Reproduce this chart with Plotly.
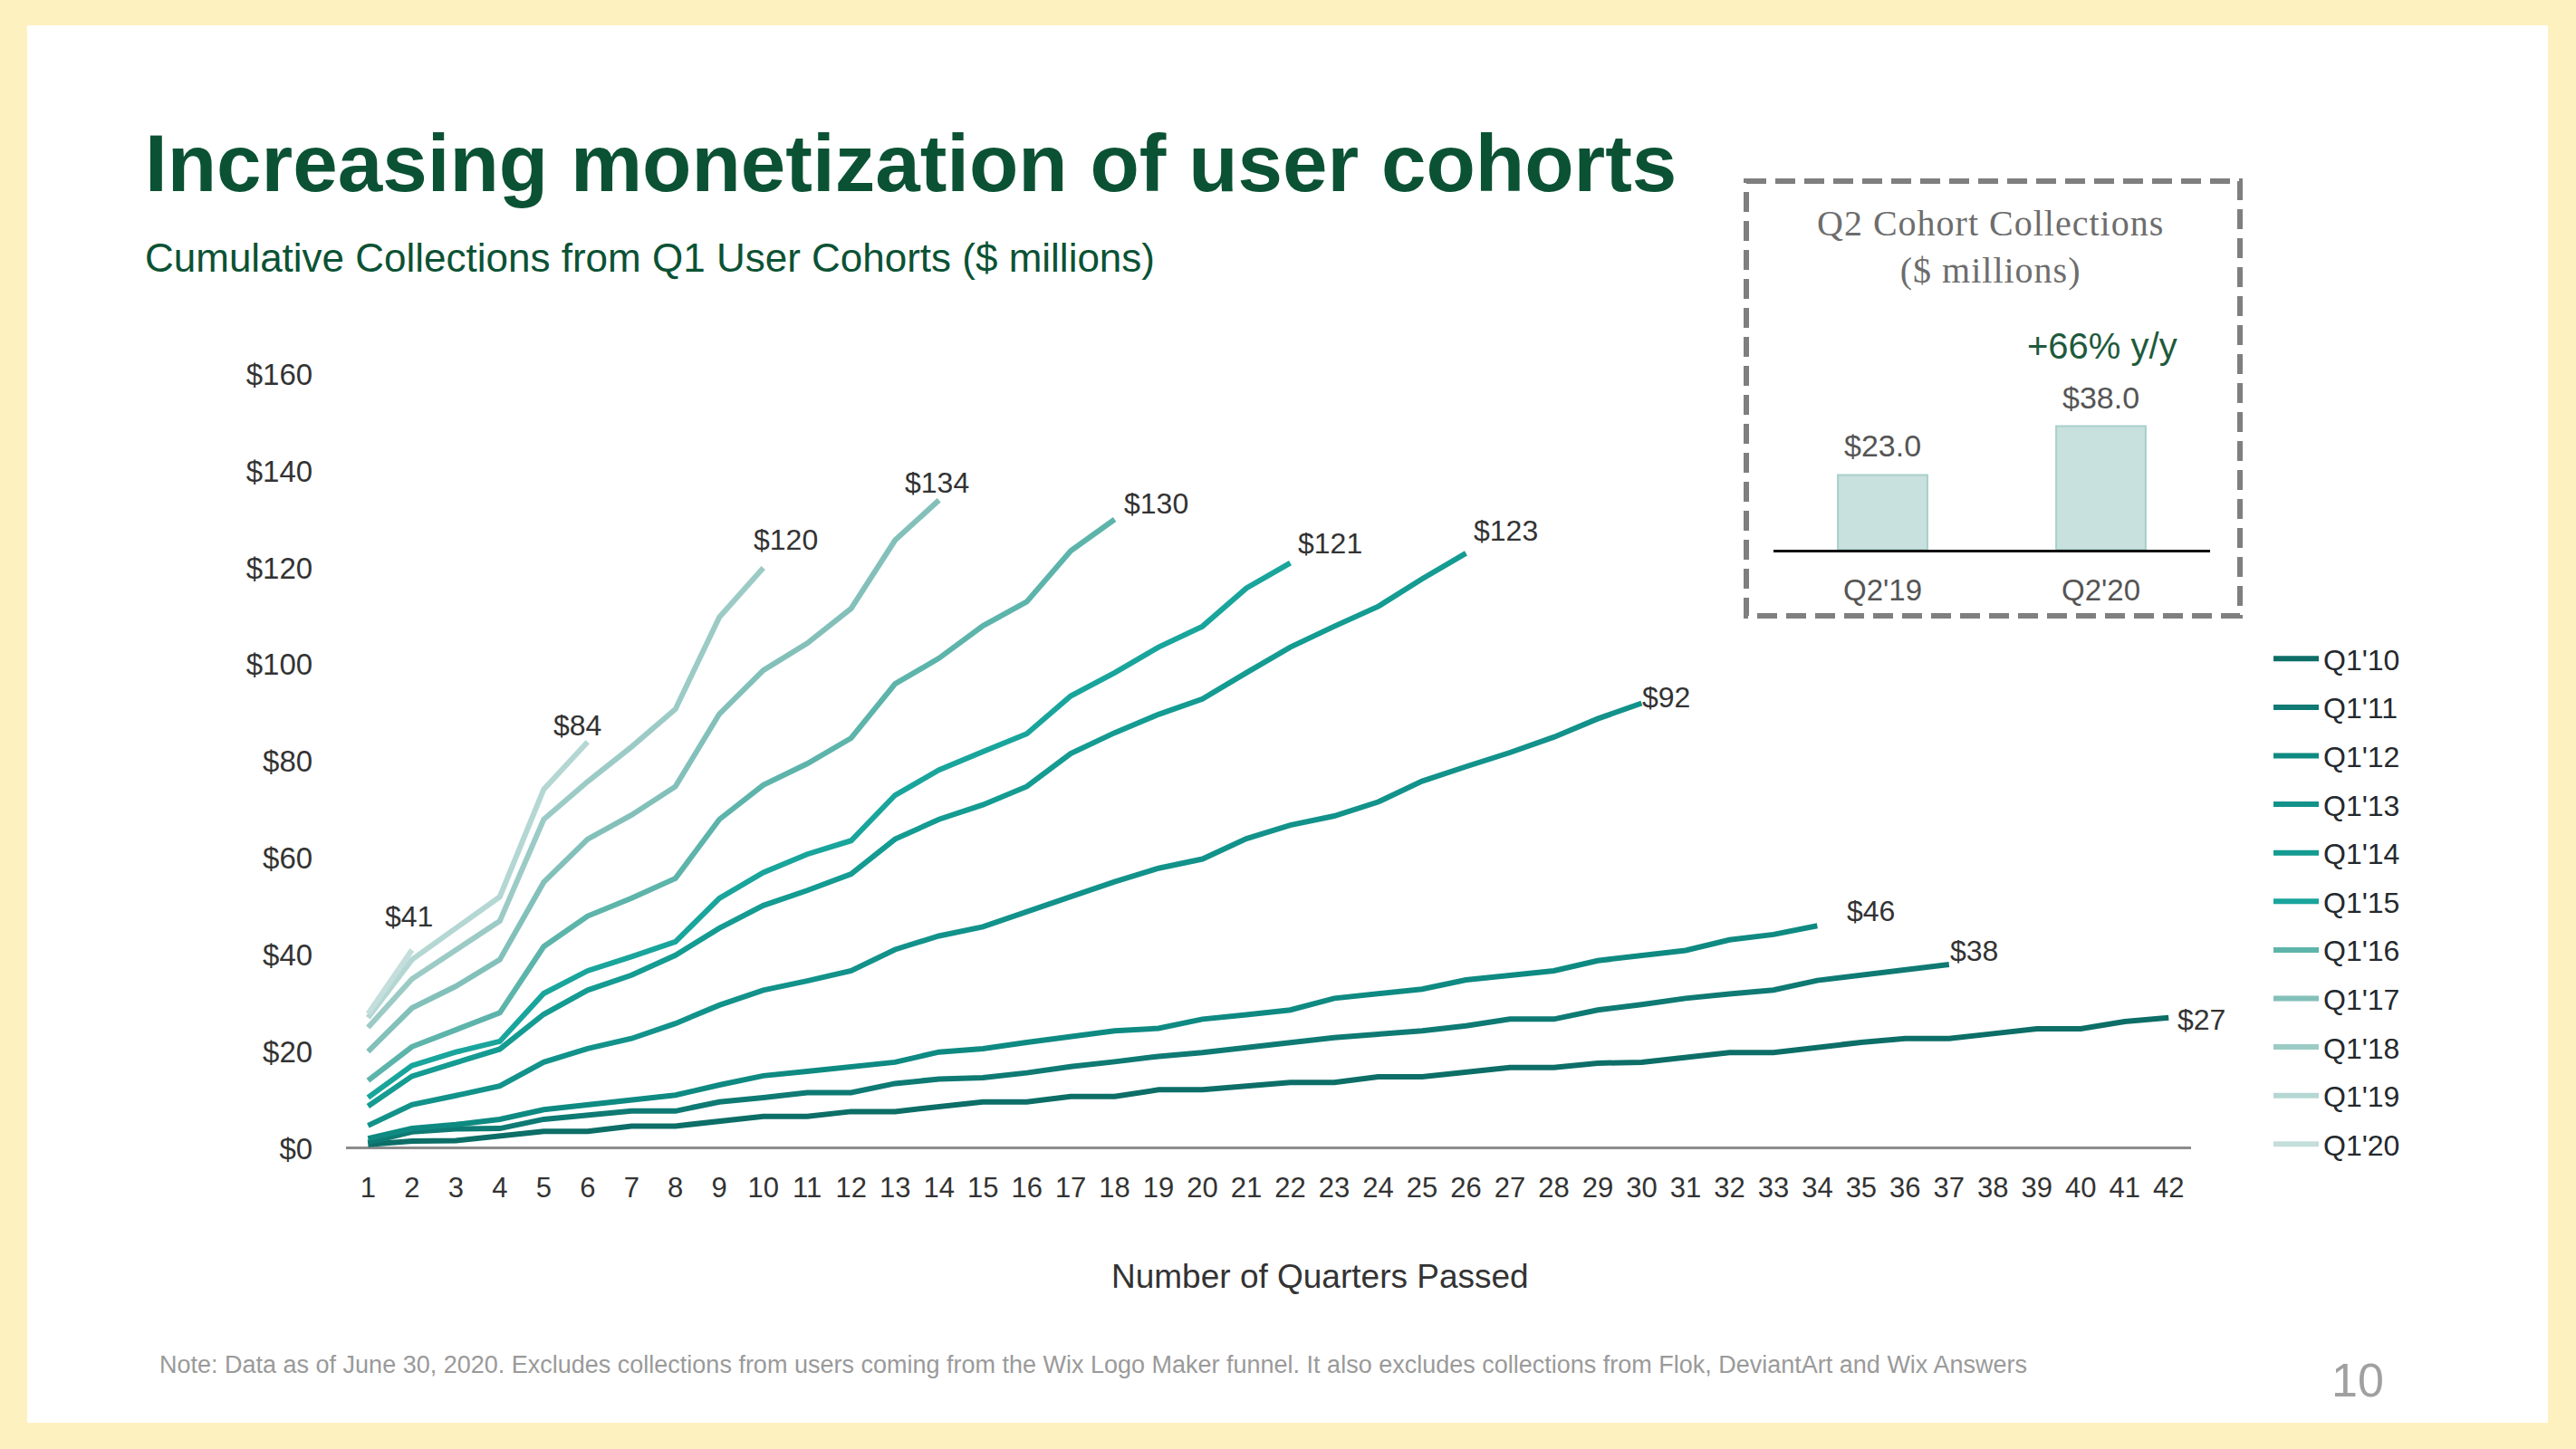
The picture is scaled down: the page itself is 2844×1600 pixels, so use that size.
import plotly.graph_objects as go

# ---------------- data ----------------
quarters = list(range(1, 43))
y_ticks = list(range(0, 161, 20))

cohort_names = ["Q1'10", "Q1'11", "Q1'12", "Q1'13", "Q1'14", "Q1'15",
                "Q1'16", "Q1'17", "Q1'18", "Q1'19", "Q1'20"]

q1_10 = [0.8, 1.5, 1.6, 2.6, 3.5, 3.5, 4.6, 4.6, 5.6, 6.6, 6.6, 7.6, 7.6, 8.7, 9.6,
         9.6, 10.7, 10.7, 12.1, 12.1, 12.8, 13.6, 13.6, 14.8, 14.8, 15.7, 16.7, 16.7,
         17.6, 17.8, 18.9, 19.8, 19.8, 20.9, 21.9, 22.7, 22.7, 23.7, 24.7, 24.7, 26.2, 27.0]
q1_11 = [1.2, 3.4, 4.0, 4.1, 6.0, 6.8, 7.7, 7.7, 9.6, 10.5, 11.5, 11.5, 13.4, 14.3, 14.6,
         15.6, 16.9, 17.9, 19.0, 19.8, 20.8, 22.0, 22.9, 23.6, 24.3, 25.3, 26.7, 26.7,
         28.6, 29.7, 31.0, 31.9, 32.7, 34.7, 35.8, 37.0, 38.0]
q1_12 = [2.0, 4.1, 4.9, 6.0, 8.0, 9.0, 9.9, 11.0, 13.1, 15.0, 15.9, 16.8, 17.8, 19.9, 20.6,
         21.9, 23.1, 24.3, 24.8, 26.7, 27.6, 28.6, 31.0, 31.9, 32.9, 34.8, 35.8, 36.7,
         38.8, 39.8, 40.9, 43.1, 44.2, 46.0]
q1_13 = [4.7, 9.0, 10.9, 12.9, 17.8, 20.6, 22.7, 25.8, 29.6, 32.7, 34.6, 36.7, 41.1, 43.9,
         45.8, 49.0, 52.0, 55.1, 57.9, 59.8, 64.0, 66.8, 68.7, 71.6, 75.9, 78.9, 81.8,
         85.0, 88.8, 92.0]
q1_14 = [8.7, 14.9, 17.7, 20.5, 27.7, 32.7, 35.8, 39.9, 45.5, 50.2, 53.3, 56.7, 63.9, 68.0,
         71.0, 74.8, 81.6, 85.9, 89.7, 92.9, 98.3, 103.6, 107.9, 112.0, 117.7, 123.0]
q1_15 = [10.5, 17.1, 19.9, 22.1, 32.0, 36.7, 39.6, 42.7, 51.7, 57.0, 60.8, 63.6, 73.0,
         78.2, 82.0, 85.7, 93.5, 98.3, 103.6, 107.9, 115.8, 121.0]
q1_16 = [14.0, 21.0, 24.5, 28.0, 41.7, 48.0, 51.7, 55.8, 68.0, 75.1, 79.5, 84.8, 96.0,
         101.3, 108.0, 113.0, 123.5, 130.0]
q1_17 = [20.0, 29.0, 33.5, 39.0, 55.0, 63.9, 68.9, 74.8, 89.8, 98.8, 104.4, 111.6, 125.7, 134.0]
q1_18 = [25.0, 35.0, 41.0, 47.0, 68.0, 75.8, 83.0, 90.8, 109.8, 120.0]
q1_19 = [27.0, 39.0, 45.5, 52.0, 74.2, 84.0]
q1_20 = [27.8, 41.0]

cohort_values = [q1_10, q1_11, q1_12, q1_13, q1_14, q1_15,
                 q1_16, q1_17, q1_18, q1_19, q1_20]

inset_categories = ["Q2'19", "Q2'20"]
inset_values = [23.0, 38.0]
inset_growth_text = "+66% y/y"

# ---------------- styles ----------------
line_colors = ["#0c6e67", "#0e7a73", "#0e8a82", "#12928a", "#149b92", "#19a59c",
               "#5db4aa", "#83c0ba", "#9ccbc6", "#b4d7d3", "#c4dedc"]
# end-label offsets in pixels (x right, y up)
label_offsets = [(36, -2), (28, 15), (59, 16), (27, 7), (44, 25), (44, 22),
                 (46, 18), (-2, 19), (25, 31), (-11, 18), (-3, 37)]

W, H = 2844, 1600
FONT = "Liberation Sans, Arial, Helvetica, sans-serif"
SERIF = "Liberation Serif, Times New Roman, serif"
GREEN = "#0b5234"


def px(x):
    return x / W


def py(y):
    return 1 - y / H


fig = go.Figure()

for name, vals, color in zip(cohort_names, cohort_values, line_colors):
    fig.add_trace(go.Scatter(
        x=quarters[:len(vals)], y=vals, mode="lines", name=name,
        legendgroup=name,
        line=dict(color=color, width=6),
        hoverinfo="skip",
    ))

annotations = []
for name, vals, (dx, dy) in zip(cohort_names, cohort_values, label_offsets):
    annotations.append(dict(
        x=quarters[len(vals) - 1], y=vals[-1], xref="x", yref="y",
        text=f"${vals[-1]:.0f}", showarrow=False, xshift=dx, yshift=dy,
        xanchor="center", yanchor="middle",
        font=dict(family=FONT, size=32, color="#333333"),
    ))

# inset bar chart
fig.add_trace(go.Bar(
    x=inset_categories, y=inset_values, xaxis="x2", yaxis="y2",
    width=0.41, marker=dict(color="#c8e0de", line=dict(color="#a8cfca", width=2)),
    showlegend=False, hoverinfo="skip",
))
for cat, val in zip(inset_categories, inset_values):
    annotations.append(dict(
        x=cat, y=val, xref="x2", yref="y2", text=f"${val:.1f}", showarrow=False,
        yshift=32, yanchor="middle",
        font=dict(family=FONT, size=34, color="#555555"),
    ))

annotations += [
    dict(x=px(158), y=py(180), xref="paper", yref="paper", xanchor="left", yanchor="middle",
         text="<b>Increasing monetization of user cohorts</b>", showarrow=False,
         font=dict(family=FONT, size=89, color=GREEN)),
    dict(x=px(158), y=py(285), xref="paper", yref="paper", xanchor="left", yanchor="middle",
         text="Cumulative Collections from Q1 User Cohorts ($ millions)", showarrow=False,
         font=dict(family=FONT, size=44, color=GREEN)),
    dict(x=px(1458), y=py(1409), xref="paper", yref="paper", xanchor="center", yanchor="middle",
         text="Number of Quarters Passed", showarrow=False,
         font=dict(family=FONT, size=37, color="#333333")),
    dict(x=px(174), y=py(1507), xref="paper", yref="paper", xanchor="left", yanchor="middle",
         text="Note: Data as of June 30, 2020. Excludes collections from users coming from the Wix Logo Maker funnel. It also excludes collections from Flok, DeviantArt and Wix Answers",
         showarrow=False, font=dict(family=FONT, size=27, color="#9a9a9a")),
    dict(x=px(2603), y=py(1524), xref="paper", yref="paper", xanchor="center", yanchor="middle",
         text="10", showarrow=False, font=dict(family=FONT, size=52, color="#a0a0a0")),
    dict(x=px(2197), y=py(272), xref="paper", yref="paper", xanchor="center", yanchor="middle",
         text="<span style='letter-spacing:1px'>Q2 Cohort Collections</span><br>"
              "<span style='letter-spacing:1px'>($ millions)</span>",
         showarrow=False,
         font=dict(family=SERIF, size=40, color="#6d6d6d")),
    dict(x=px(2321), y=py(382), xref="paper", yref="paper", xanchor="center", yanchor="middle",
         text=inset_growth_text, showarrow=False,
         font=dict(family=FONT, size=40, color="#1e5a3c")),
]

shapes = [
    dict(type="rect", xref="paper", yref="paper", x0=px(30), x1=px(2813), y0=py(28), y1=py(1571),
         fillcolor="white", line=dict(width=0), layer="below"),
    dict(type="rect", xref="paper", yref="paper", x0=px(1928), x1=px(2473), y0=py(200), y1=py(680),
         fillcolor="rgba(0,0,0,0)", line=dict(color="#7f7f7f", width=6, dash="22px,10px"),
         layer="above"),
]

fig.update_layout(
    width=W, height=H, autosize=False,
    margin=dict(l=0, r=0, t=0, b=0, autoexpand=False),
    paper_bgcolor="#fdf1c0", plot_bgcolor="rgba(0,0,0,0)",
    font=dict(family=FONT, color="#333333"),
    showlegend=True,
    legend=dict(x=px(2505), y=py(700), xanchor="left", yanchor="top",
                font=dict(family=FONT, size=32, color="#24292e"),
                itemwidth=50,
                tracegroupgap=9, bgcolor="rgba(0,0,0,0)", borderwidth=0),
    xaxis=dict(domain=[px(382.1), px(2418.5)], range=[0.5, 42.5], tickmode="array",
               tickvals=quarters, ticktext=[str(q) for q in quarters], automargin=False,
               showgrid=False, zeroline=False, showline=False, ticks="",
               tickfont=dict(family=FONT, size=31, color="#333333"), ticklabelstandoff=6),
    yaxis=dict(domain=[py(1284), py(413.3)], range=[-3, 160], tickmode="array",
               tickvals=y_ticks, ticktext=[f"${v}" for v in y_ticks], automargin=False,
               showgrid=False, zeroline=True, zerolinecolor="#8c8c8c", zerolinewidth=2.5,
               showline=False, ticks="", ticklabelstandoff=36,
               tickfont=dict(family=FONT, size=33, color="#333333")),
    xaxis2=dict(domain=[px(1958), px(2440)], anchor="y2", type="category", automargin=False,
                range=[-0.5, 1.5], showgrid=False, zeroline=False, showline=True,
                linecolor="#111111", linewidth=2.5, ticks="",
                tickfont=dict(family=FONT, size=33, color="#555555"), ticklabelstandoff=14),
    yaxis2=dict(domain=[py(607), py(447)], anchor="x2", range=[0, 160 / 3.59],
                visible=False, automargin=False),
    annotations=annotations,
    shapes=shapes,
)

fig.write_html("out.html", config={"displayModeBar": False},
               post_script="document.body.style.margin='0px';")
